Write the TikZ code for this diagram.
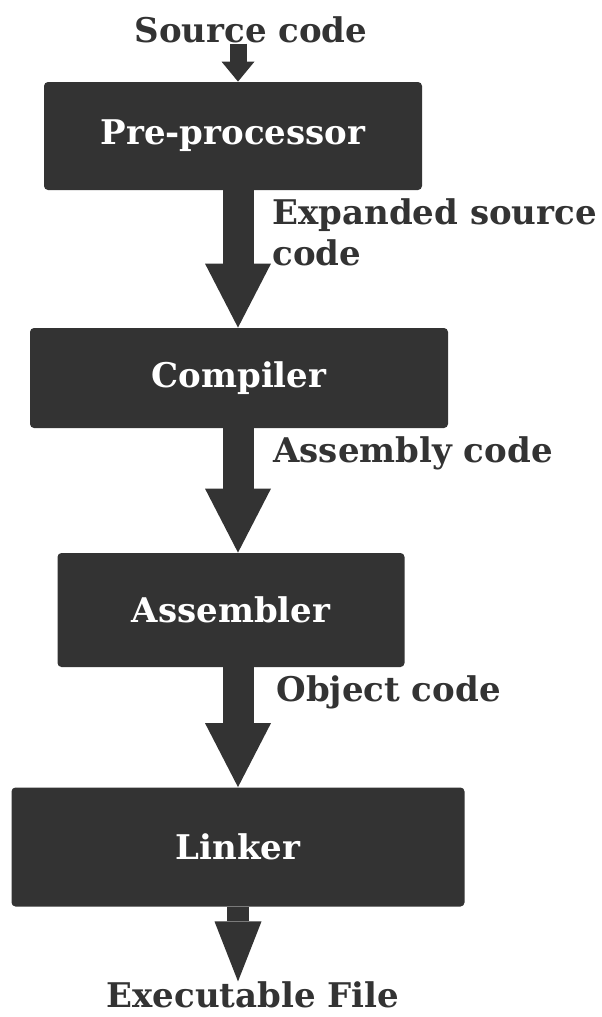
\documentclass[tikz,border=0pt]{standalone}
\usepackage{fontspec}
\setmainfont{DejaVu Serif}
\usetikzlibrary{arrows.meta}
\definecolor{ink}{HTML}{333333}
\tikzset{
  stage/.style={fill=ink, text=white, rounded corners=2pt, inner sep=0pt,
    font=\bfseries\fontsize{17}{19}\selectfont},
  lbl/.style={text=ink, inner sep=0pt, font=\bfseries\fontsize{17}{20.5}\selectfont},
  flow/.style={draw=ink, line width=15.5pt,
    -{Triangle[width=33pt,length=32pt,line width=0pt]}},
  thinflow/.style={draw=ink, line width=8.5pt,
    -{Triangle[width=16.5pt,length=10pt,line width=0pt]}},
  outflow/.style={draw=ink, line width=11pt,
    -{Triangle[width=23.5pt,length=30pt,line width=0pt]}}
}
\begin{document}
\begin{tikzpicture}[x=0.5pt,y=-0.5pt]
  \useasboundingbox (0,0) rectangle (601,1017);
  \coordinate (axis) at (238,0);
  % stages
  \node[stage, minimum width=189pt, minimum height=54pt] (pre) at (233,136) {Pre-processor};
  \node[stage, minimum width=209pt, minimum height=50pt] (comp) at (239,378) {Compiler};
  \node[stage, minimum width=173.5pt, minimum height=57pt] (asm) at (231,610) {Assembler};
  \node[stage, minimum width=226.5pt, minimum height=59.5pt] (link) at (238,847) {Linker};
  % labels
  \node[lbl] (src) at (251,30) {Source code};
  \node[lbl, anchor=west, align=left] (exp) at (272,232) {Expanded source\\code};
  \node[lbl, anchor=west] (asmcode) at (273,453) {Assembly code};
  \node[lbl, anchor=west] (obj) at (276,692) {Object code};
  \node[lbl] (exe) at (253,995) {Executable File};
  % arrows
  \draw[thinflow] (src.south -| axis) -- (pre.north -| axis);
  \draw[flow] (pre.south -| axis) -- (comp.north -| axis);
  \draw[flow] (comp.south -| axis) -- (asm.north -| axis);
  \draw[flow] (asm.south -| axis) -- (link.north -| axis);
  \draw[outflow] (link.south -| axis) -- (exe.north -| axis);
\end{tikzpicture}
\end{document}
